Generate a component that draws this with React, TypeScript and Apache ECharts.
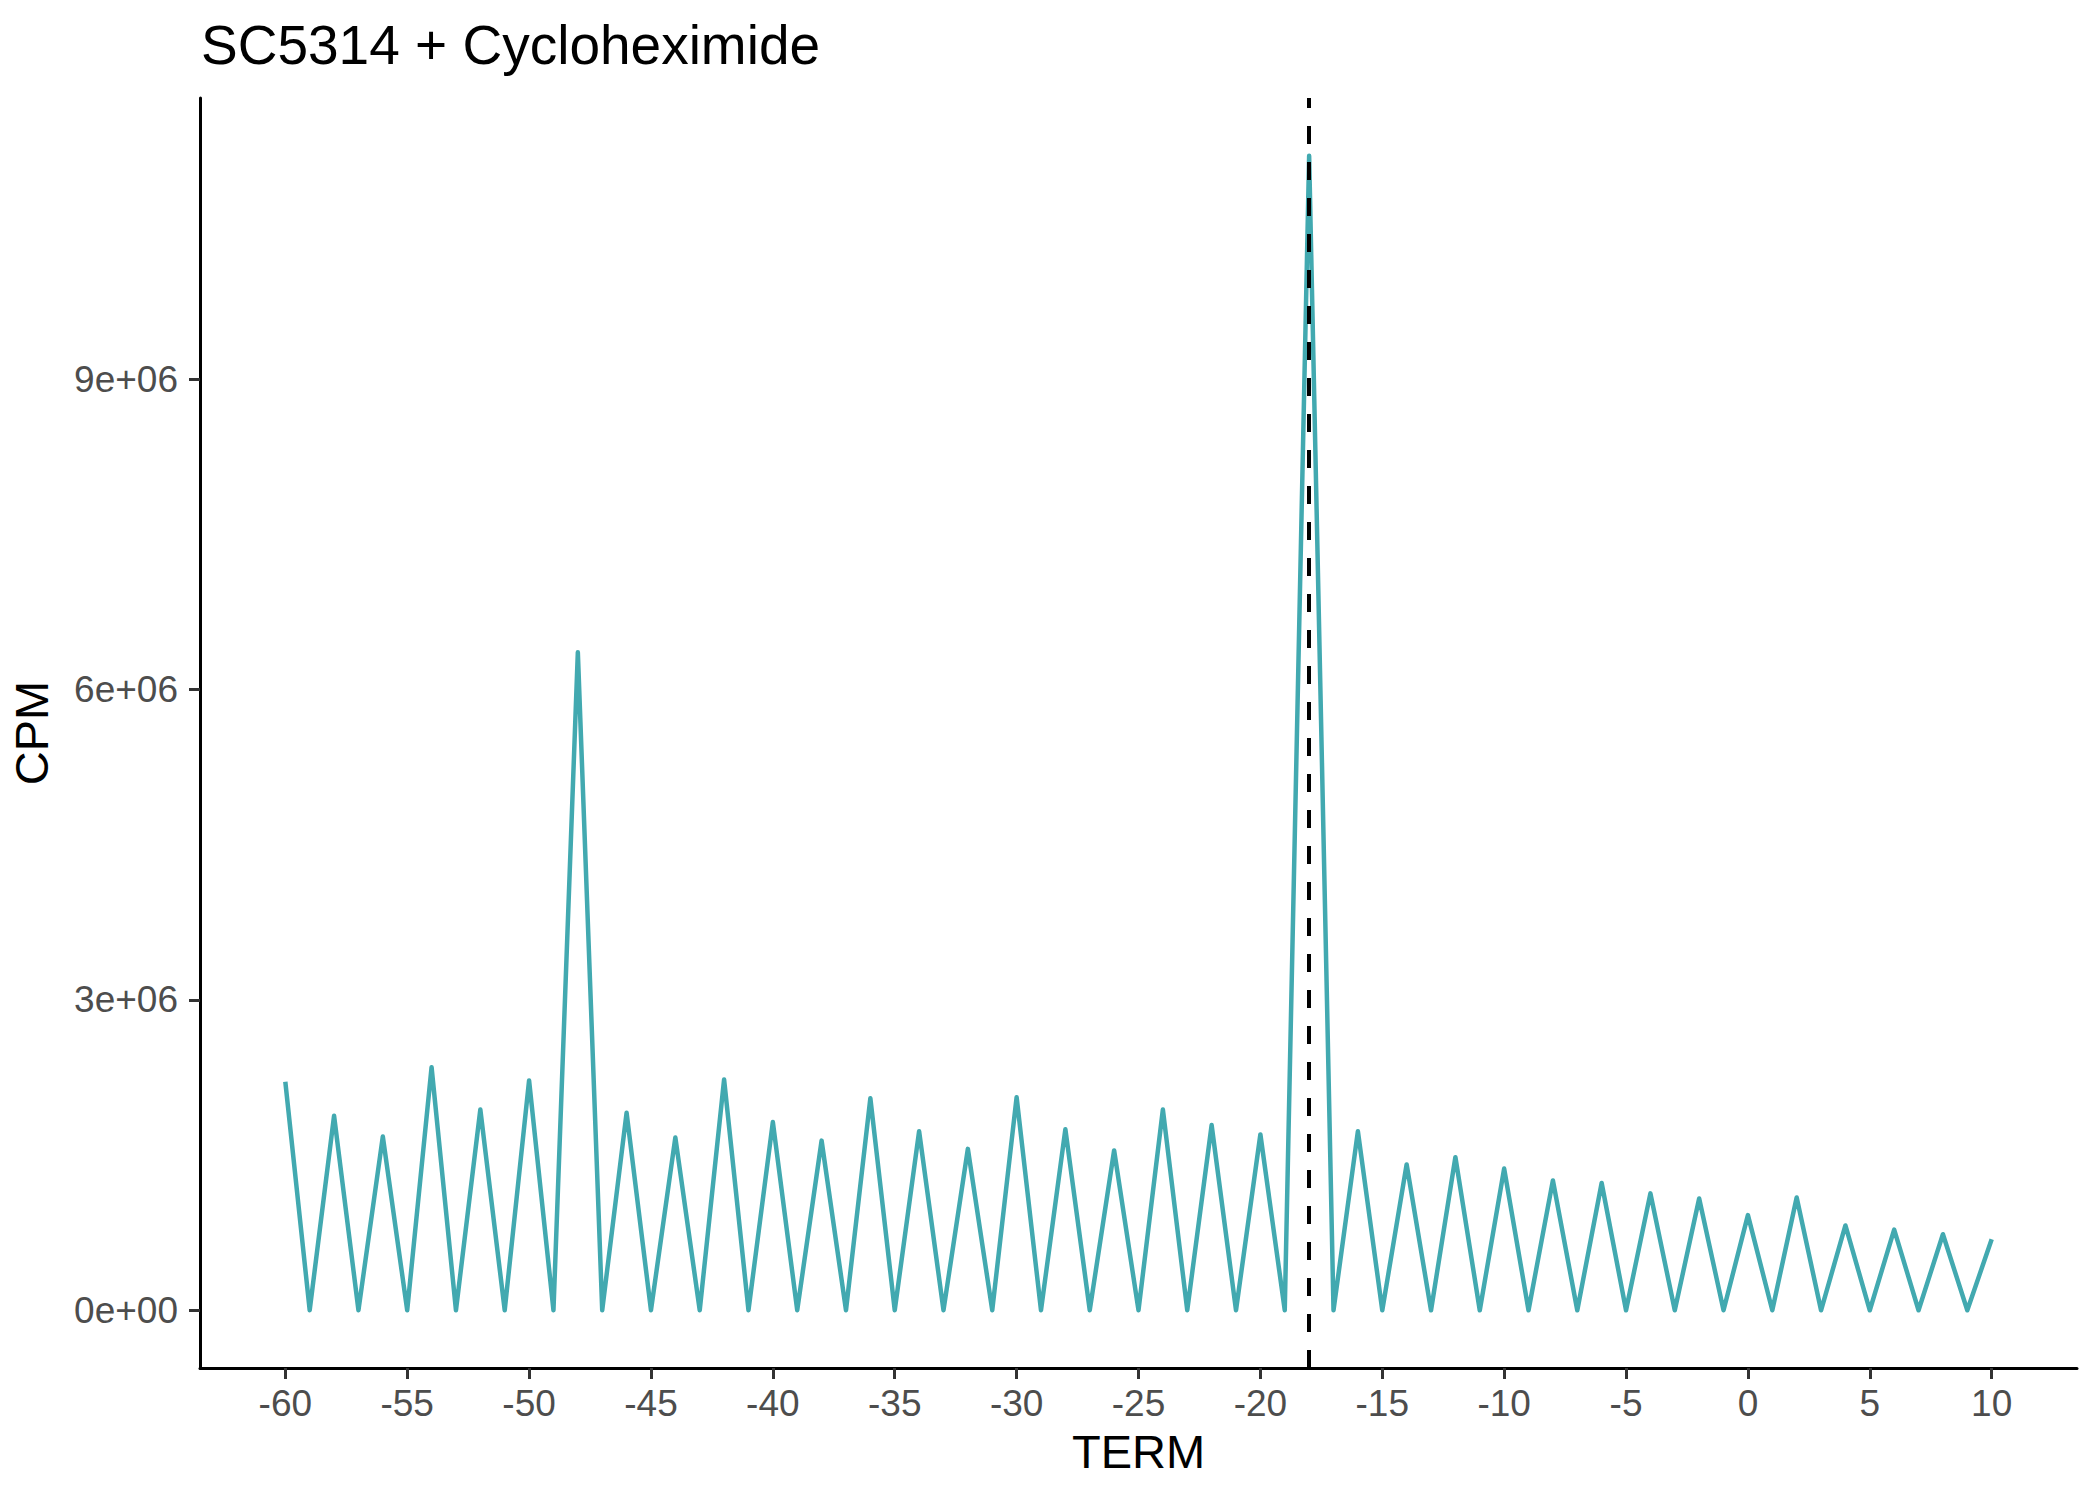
import React, { useEffect, useRef } from 'react';
import * as echarts from 'echarts';

// TERM positions (x) and CPM values (y)
const terms = [
  -60, -59, -58, -57, -56, -55, -54, -53, -52, -51,
  -50, -49, -48, -47, -46, -45, -44, -43, -42, -41,
  -40, -39, -38, -37, -36, -35, -34, -33, -32, -31,
  -30, -29, -28, -27, -26, -25, -24, -23, -22, -21,
  -20, -19, -18, -17, -16, -15, -14, -13, -12, -11,
  -10, -9, -8, -7, -6, -5, -4, -3, -2, -1,
  0, 1, 2, 3, 4, 5, 6, 7, 8, 9, 10,
];

const cpm = [
  2210000, 0, 1880000, 0, 1680000, 0, 2350000, 0, 1940000, 0,
  2220000, 0, 6360000, 0, 1910000, 0, 1670000, 0, 2230000, 0,
  1820000, 0, 1640000, 0, 2050000, 0, 1730000, 0, 1560000, 0,
  2060000, 0, 1750000, 0, 1545000, 0, 1940000, 0, 1790000, 0,
  1700000, 0, 11160000, 0, 1730000, 0, 1410000, 0, 1480000, 0,
  1370000, 0, 1255000, 0, 1230000, 0, 1130000, 0, 1080000, 0,
  920000, 0, 1090000, 0, 820000, 0, 780000, 0, 735000, 0, 686000,
];

const xTicks = [-60, -55, -50, -45, -40, -35, -30, -25, -20, -15, -10, -5, 0, 5, 10];
const yTicks = [0, 3000000, 6000000, 9000000];
const yTickLabels = ['0e+00', '3e+06', '6e+06', '9e+06'];

const markerTerm = -18;

const FONT = "'Liberation Sans', Arial, Helvetica, sans-serif";

const App: React.FC = () => {
  const chartRef = useRef<HTMLDivElement>(null);

  useEffect(() => {
    if (!chartRef.current) return;
    const chart = echarts.init(chartRef.current, undefined, { renderer: 'svg' });

    const yMax = Math.max(...cpm);
    const pad = yMax * 0.05;

    const option = {
      animation: false,
      backgroundColor: '#ffffff',
      title: {
        text: 'SC5314 + Cycloheximide',
        left: 196,
        top: 12,
        textStyle: { fontFamily: FONT, fontSize: 55, fontWeight: 'normal', color: '#000000' },
      },
      grid: { left: 200, right: 23, top: 98, bottom: 132 },
      xAxis: {
        type: 'value',
        min: -63.5,
        max: 13.5,
        name: 'TERM',
        nameLocation: 'middle',
        nameGap: 60,
        nameTextStyle: { fontFamily: FONT, fontSize: 47, color: '#000000' },
        splitLine: { show: false },
        axisLine: { onZero: false, lineStyle: { color: '#000000', width: 3 } },
        axisTick: { customValues: xTicks, length: 11, lineStyle: { color: '#333333', width: 3 } },
        axisLabel: {
          customValues: xTicks,
          margin: 17,
          fontFamily: FONT,
          fontSize: 37,
          color: '#4D4D4D',
        },
      },
      yAxis: {
        type: 'value',
        min: -pad,
        max: yMax + pad,
        name: 'CPM',
        nameLocation: 'middle',
        nameGap: 145,
        nameRotate: 90,
        nameTextStyle: { fontFamily: FONT, fontSize: 47, color: '#000000' },
        splitLine: { show: false },
        axisLine: { onZero: false, lineStyle: { color: '#000000', width: 3 } },
        axisTick: { customValues: yTicks, length: 11, lineStyle: { color: '#333333', width: 3 } },
        axisLabel: {
          customValues: yTicks,
          margin: 22,
          fontFamily: FONT,
          fontSize: 37,
          color: '#4D4D4D',
          formatter: (v: number) => {
            const i = yTicks.indexOf(v);
            return i >= 0 ? yTickLabels[i] : '';
          },
        },
      },
      series: [
        {
          type: 'line',
          data: terms.map((t, i) => [t, cpm[i]]),
          showSymbol: false,
          symbol: 'none',
          lineStyle: { color: '#42A9B0', width: 4.5, join: 'round' },
          markLine: {
            silent: true,
            symbol: ['none', 'none'],
            label: { show: false },
            lineStyle: { color: '#000000', width: 4, type: [18, 18] },
            data: [[{ coord: [markerTerm, -pad] }, { coord: [markerTerm, yMax + pad] }]],
          },
          z: 2,
        },
      ],
    };

    chart.setOption(option);
    return () => {
      chart.dispose();
    };
  }, []);

  return (
    <div
      ref={chartRef}
      style={{ position: 'fixed', left: 0, top: 0, width: 2100, height: 1500, background: '#fff' }}
    />
  );
};

export default App;
